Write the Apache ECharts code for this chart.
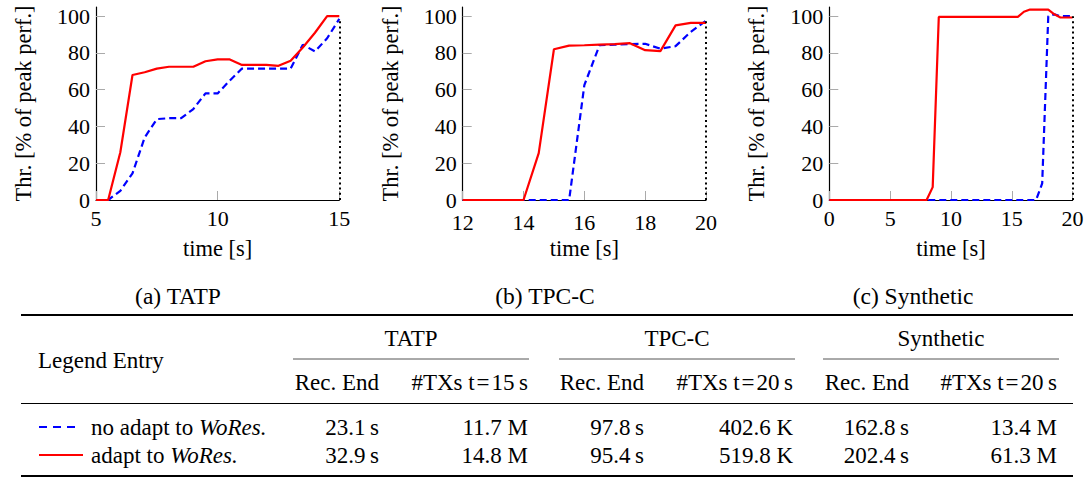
<!DOCTYPE html>
<html>
<head>
<meta charset="utf-8">
<script src="https://cdn.jsdelivr.net/npm/echarts@6/dist/echarts.min.js"></script>
<style>
  html, body { margin: 0; padding: 0; background: #fff; }
  #chart { width: 1091px; height: 477px; }
</style>
</head>
<body>
<div id="chart"></div>
<script>
// ---- Throughput after restart, % of peak performance ----
const tatpTime     = [5, 5.5, 6, 6.5, 7, 7.5, 8, 8.5, 9, 9.5, 10, 10.5, 11, 11.5, 12, 12.5, 13, 13.5, 14, 14.5, 15];
const tatpNoAdapt  = [0, 0, 5, 14.5, 34, 44, 44.5, 44.5, 49.5, 58, 58, 65, 71.5, 71.5, 71.5, 71.5, 71.5, 84.5, 80.8, 88, 98.5];
const tatpAdapt    = [0, 0, 26, 68, 69.5, 71.5, 72.5, 72.5, 72.5, 75.5, 76.5, 76.5, 73.5, 73.5, 73.5, 73, 75.8, 83, 91, 100, 100];

const tpccTime     = [12, 12.5, 13, 13.5, 14, 14.5, 15, 15.5, 16, 16.5, 17, 17.5, 18, 18.5, 19, 19.5, 20];
const tpccNoAdapt  = [0, 0, 0, 0, 0, 0, 0, 0, 62.5, 84.2, 84.5, 84.8, 85, 82.3, 83.7, 91.5, 97.5];
const tpccAdapt    = [0, 0, 0, 0, 0, 25.5, 82, 84, 84.2, 84.5, 84.8, 85.3, 81.5, 81, 95, 96.4, 96.4];

const synthTime    = [0, 0.5, 1, 1.5, 2, 2.5, 3, 3.5, 4, 4.5, 5, 5.5, 6, 6.5, 7, 7.5, 8, 8.5, 9, 9.5,
                      10, 10.5, 11, 11.5, 12, 12.5, 13, 13.5, 14, 14.5, 15, 15.5, 16, 16.5, 17, 17.5, 18, 18.5, 19, 19.5, 20];
const synthNoAdapt = [0, 0, 0, 0, 0, 0, 0, 0, 0, 0, 0, 0, 0, 0, 0, 0, 0, 0, 0, 0,
                      0, 0, 0, 0, 0, 0, 0, 0, 0, 0, 0, 0, 0, 0, 0, 9, 100, 101, 100, 100, 100];
const synthAdapt   = [0, 0, 0, 0, 0, 0, 0, 0, 0, 0, 0, 0, 0, 0, 0, 0, 0, 7, 99.6, 99.6,
                      99.6, 99.6, 99.6, 99.6, 99.6, 99.6, 99.6, 99.6, 99.6, 99.6, 99.6, 99.6, 102.4, 103.6, 103.6, 103.6, 103.6, 101, 99.3, 99.3, 99.3];

// axis ticks
const tatpXTicks  = [5, 10, 15];
const tpccXTicks  = [12, 14, 16, 18, 20];
const synthXTicks = [0, 5, 10, 15, 20];
const yTicks      = [0, 20, 40, 60, 80, 100];

// texts
const seriesNames  = ['no adapt to WoRes.', 'adapt to WoRes.'];
const captions     = ['(a) TATP', '(b) TPC-C', '(c) Synthetic'];
const yAxisTitle   = 'Thr. [% of peak perf.]';
const xAxisTitle   = 'time [s]';

// ---- Summary table ----
const tableCorner    = 'Legend Entry';
const workloads      = ['TATP', 'TPC-C', 'Synthetic'];
const recEndHead     = 'Rec. End';
const txHeads        = ['#TXs t\u200a=\u200a15\u2009s', '#TXs t\u200a=\u200a20\u2009s', '#TXs t\u200a=\u200a20\u2009s'];
const recEndNoAdapt  = ['23.1\u2009s', '97.8\u2009s', '162.8\u2009s'];
const txNoAdapt      = ['11.7 M', '402.6 K', '13.4 M'];
const recEndAdapt    = ['32.9\u2009s', '95.4\u2009s', '202.4\u2009s'];
const txAdapt        = ['14.8 M', '519.8 K', '61.3 M'];

// ---- drawing ----
const FONT = 'Liberation Serif, serif';
const BLUE = '#0000ff';
const RED = '#ff0000';
const LINE_STYLES = [
  { color: BLUE, width: 2.2, type: [7, 4] },
  { color: RED, width: 2.2, type: 'solid' }
];
const TICK_FS = 22;   // tick labels
const NAME_FS = 22.5; // axis titles

// the middle panel starts at 12, whose label sits close to the "0" of its y axis,
// so its x labels go a little lower
const panels = [
  { time: tatpTime,  noAdapt: tatpNoAdapt,  adapt: tatpAdapt,  ticks: tatpXTicks,  min: 5,  max: 15, interval: 5, left: 96,    xLabelGap: 11 },
  { time: tpccTime,  noAdapt: tpccNoAdapt,  adapt: tpccAdapt,  ticks: tpccXTicks,  min: 12, max: 20, interval: 2, left: 462.7, xLabelGap: 14.5 },
  { time: synthTime, noAdapt: synthNoAdapt, adapt: synthAdapt, ticks: synthXTicks, min: 0,  max: 20, interval: 5, left: 829.3, xLabelGap: 11 }
];

const zip = (xs, ys) => xs.map((x, i) => [x, ys[i]]);

const grids = [], xAxes = [], yAxes = [], series = [];
panels.forEach((p, i) => {
  grids.push({ left: p.left, top: 7, width: 243.3, height: 193 });
  xAxes.push({
    gridIndex: i, type: 'value', min: p.min, max: p.max, interval: p.interval,
    name: xAxisTitle, nameLocation: 'middle', nameGap: 37,
    nameTextStyle: { fontFamily: FONT, fontSize: NAME_FS, color: '#000' },
    axisLine: { lineStyle: { color: '#000', width: 1.2 } },
    axisTick: { inside: true, length: 9, customValues: p.ticks, lineStyle: { color: '#aaa', width: 1 } },
    axisLabel: { customValues: p.ticks, margin: p.xLabelGap, lineHeight: 15, fontFamily: FONT, fontSize: TICK_FS, color: '#000' },
    splitLine: { show: false }
  });
  yAxes.push({
    gridIndex: i, type: 'value', min: 0, max: 105,
    name: yAxisTitle, nameLocation: 'middle', nameGap: 61, nameRotate: 90,
    nameTextStyle: { fontFamily: FONT, fontSize: NAME_FS, color: '#000' },
    axisLine: { show: true, lineStyle: { color: '#000', width: 1.2 } },
    axisTick: { show: true, inside: true, length: 9, customValues: yTicks, lineStyle: { color: '#aaa', width: 1 } },
    axisLabel: { customValues: yTicks, margin: 6, lineHeight: 15, fontFamily: FONT, fontSize: TICK_FS, color: '#000' },
    splitLine: { show: false }
  });
  const lastNoAdapt = p.noAdapt[p.noAdapt.length - 1];
  series.push({
    name: seriesNames[0], type: 'line', xAxisIndex: i, yAxisIndex: i,
    data: zip(p.time, p.noAdapt), symbol: 'none', silent: true,
    lineStyle: LINE_STYLES[0],
    markLine: {
      silent: true, symbol: ['none', 'none'], label: { show: false },
      lineStyle: { color: '#000', width: 2, type: [2, 3.2] },
      data: [[{ coord: [p.max, 0] }, { coord: [p.max, lastNoAdapt] }]]
    }
  });
  series.push({
    name: seriesNames[1], type: 'line', xAxisIndex: i, yAxisIndex: i,
    data: zip(p.time, p.adapt), symbol: 'none', silent: true,
    lineStyle: LINE_STYLES[1]
  });
});

// table layout
const T = {
  left: 21, right: 1073,
  captionY: 296, topRule: 315, groupY: 338, groupRule: 359, headY: 382, headRule: 403.5,
  rowY: [427, 455], bottomRule: 476,
  groupL: [293, 559, 823], groupR: [529, 795, 1059],
  recEndR: [379, 644, 909], txR: [528, 793, 1057],
  captionX: [178, 545, 913], cornerX: 38, cornerY: 360,
  sampleL: 39, sampleR: [79, 83], sampleTextX: 91
};
const TFS = 23;

const txt = (text, x, y, align, extra) => ({
  type: 'text', x, y, silent: true,
  style: Object.assign({ text, fontFamily: FONT, fontSize: TFS, fill: '#000', textAlign: align, textVerticalAlign: 'middle' }, extra || {})
});
const rule = (x1, x2, y, w, color) => ({
  type: 'line', silent: true,
  shape: { x1, y1: y, x2, y2: y },
  style: { stroke: color || '#000', lineWidth: w }
});

const graphics = [];
captions.forEach((c, i) => graphics.push(txt(c, T.captionX[i], T.captionY, 'center', { fontSize: 23.5 })));
graphics.push(rule(T.left, T.right, T.topRule, 2));
graphics.push(rule(T.left, T.right, T.headRule, 1.2));
graphics.push(rule(T.left, T.right, T.bottomRule, 2));
graphics.push(txt(tableCorner, T.cornerX, T.cornerY, 'left'));

// legend entries: line sample + name (journal name in italics)
seriesNames.forEach((name, r) => {
  const ls = LINE_STYLES[r];
  graphics.push({
    type: 'line', silent: true,
    shape: { x1: T.sampleL, y1: T.rowY[r], x2: T.sampleR[r], y2: T.rowY[r] },
    style: { stroke: ls.color, lineWidth: ls.width, lineDash: Array.isArray(ls.type) ? [8, 6] : null }
  });
  const k = name.indexOf('WoRes.');
  graphics.push(txt('{r|' + name.slice(0, k) + '}{i|' + name.slice(k) + '}', T.sampleTextX, T.rowY[r], 'left', {
    rich: {
      r: { fontFamily: FONT, fontSize: TFS, fill: '#000' },
      i: { fontFamily: FONT, fontSize: TFS, fill: '#000', fontStyle: 'italic' }
    }
  }));
});

workloads.forEach((w, i) => {
  graphics.push(txt(w, (T.groupL[i] + T.groupR[i]) / 2, T.groupY, 'center'));
  graphics.push(rule(T.groupL[i], T.groupR[i], T.groupRule, 1, '#555'));
  graphics.push(txt(recEndHead, T.recEndR[i], T.headY, 'right'));
  graphics.push(txt(txHeads[i], T.txR[i], T.headY, 'right'));
  graphics.push(txt(recEndNoAdapt[i], T.recEndR[i], T.rowY[0], 'right'));
  graphics.push(txt(txNoAdapt[i], T.txR[i], T.rowY[0], 'right'));
  graphics.push(txt(recEndAdapt[i], T.recEndR[i], T.rowY[1], 'right'));
  graphics.push(txt(txAdapt[i], T.txR[i], T.rowY[1], 'right'));
});

const chart = echarts.init(document.getElementById('chart'), null, { renderer: 'svg' });
chart.setOption({
  animation: false,
  backgroundColor: '#fff',
  textStyle: { fontFamily: FONT },
  grid: grids,
  xAxis: xAxes,
  yAxis: yAxes,
  series: series,
  graphic: graphics
});
</script>
</body>
</html>
